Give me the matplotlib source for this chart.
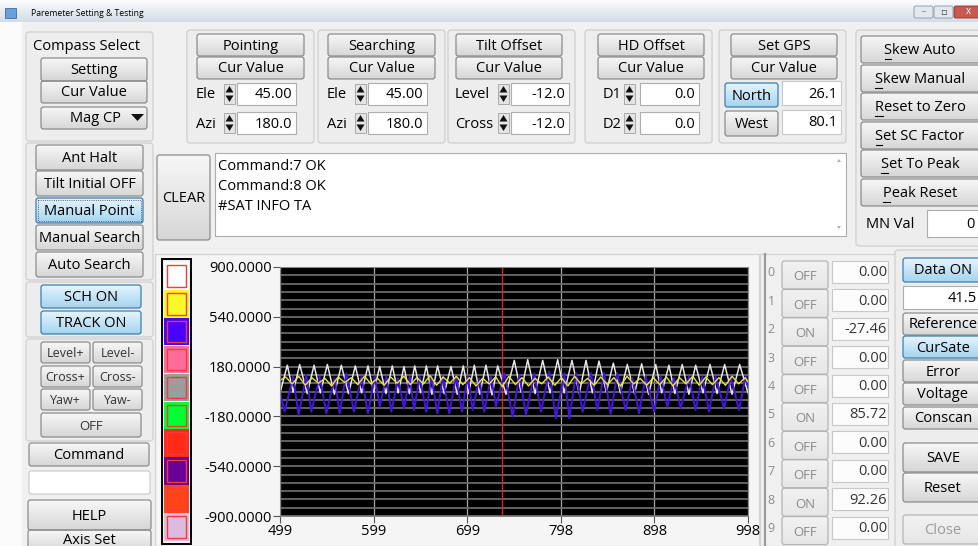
import numpy as np
import matplotlib
matplotlib.use('Agg')
import matplotlib.pyplot as plt
from matplotlib.patches import Rectangle, FancyBboxPatch, Polygon
from matplotlib.colors import LinearSegmentedColormap

plt.rcParams['font.family'] = ['Open Sans', 'DejaVu Sans']

W, H = 979, 546

# ---- chart data ----
x_ticks = [499, 598.8, 698.6, 798.4, 898.2, 998]
x_labels = ['499', '599', '699', '798', '898', '998']
y_ticks = [900, 540, 180, -180, -540, -900]
y_labels = ['900.0000', '540.0000', '180.0000', '-180.0000', '-540.0000', '-900.0000']
cursor_x = 736

white_x = [499, 506.8, 513, 520, 528, 535.3, 542, 549.5, 557, 564.4, 572, 579.3, 586, 592.8,
           599, 605.3, 612, 618.7, 625, 631.2, 637, 642.6, 649, 655, 661, 667, 674, 681.3,
           688, 694.4, 700, 706.2, 712, 718.6, 725, 731.1, 740, 748.8, 756, 763.1, 771, 779.1,
           787, 795.1, 802, 810.3, 818, 825.3, 832, 839.1, 847, 854.4, 862, 869.3, 877, 884.6,
           892, 899.6, 906, 913.7, 920, 927.9, 935, 942.2, 950, 957.5, 965, 973.1, 981, 989.1, 998]
white_y = [-10, 190, -5, 195, -15, 190, -10, 195, -20, 190, -15, 185, -10, 185, -5, 180, -15, 185,
           -10, 180, -15, 185, -10, 185, -20, 185, -15, 180, -20, 185, -15, 190, -20, 190, -25, 185,
           -20, 225, -5, 230, -15, 225, -10, 230, -10, 225, -15, 225, -10, 220, -5, 205, -10, 195,
           -15, 200, -20, 195, -10, 190, -15, 195, -20, 190, -10, 195, -15, 195, -20, 195, -10]

blue_x = [499, 504.0, 512.9, 518.9, 527.1, 532.4, 541.3, 548.4, 557.3, 562.6, 569.7, 577.9, 585.7,
          592.8, 600.0, 605.3, 612.4, 617.7, 624.8, 631.2, 637.3, 641.9, 647.9, 655.0, 660.4, 666.8,
          672.4, 679.5, 686.6, 693.0, 699.1, 704.4, 711.5, 716.8, 724.0, 729.3, 738.2, 747.0, 754.2,
          761.3, 770.1, 777.3, 786.1, 793.2, 802.1, 807.5, 814.6, 821.7, 830.6, 837.4, 844.5, 851.6,
          858.7, 867.6, 874.7, 881.8, 888.9, 897.8, 904.9, 912.0, 919.1, 926.2, 935.1, 942.2, 949.3,
          956.4, 963.5, 972.4, 979.5, 988.4, 995.5, 998]
blue_y = [-10, -145, 108, -169, 120, -145, 108, -157, 96, -157, 132, -145, 108, -157, 108, -109, 108,
          -145, 96, -121, 108, -133, 108, -145, 108, -157, 108, -157, 108, -145, 108, -133, 96, -145,
          108, -109, 132, -181, 120, -169, 132, -145, 145, -193, 132, -193, 132, -145, 132, -133, 132,
          -162, 132, -133, 96, -157, 108, -145, 108, -109, 96, -121, 108, -133, 108, -145, 108, -121,
          108, -133, 108, 40]

yellow_x = [499, 505, 512, 519, 526, 533, 540, 547, 554, 561, 568, 575, 582, 589, 596, 603, 610, 617,
            624, 631, 638, 645, 652, 659, 666, 673, 680, 687, 694, 701, 708, 715, 722, 729, 736, 743,
            750, 757, 764, 771, 778, 785, 792, 799, 806, 813, 820, 827, 834, 841, 848, 855, 862, 869,
            876, 883, 890, 897, 904, 911, 918, 925, 932, 939, 946, 953, 960, 967, 974, 981, 988, 995, 998]
yellow_y = [80, 105, 55, 110, 45, 100, 60, 95, 40, 105, 65, 100, 50, 110, 55, 95, 45, 105,
            60, 110, 50, 100, 55, 115, 45, 105, 60, 110, 50, 100, 40, 95, 55, 105, 35, 110,
            50, 100, 40, 95, 55, 105, 45, 100, 40, 110, 55, 95, 45, 105, 50, 100, 40, 110,
            55, 95, 45, 100, 50, 105, 40, 100, 55, 110, 45, 105, 50, 100, 45, 110, 55, 100, 70]

legend_colors = ['#ffffff', '#f8f82a', '#4a00ff', '#ff6b9b', '#9c9c9c',
                 '#00ff33', '#ff2a18', '#6a0099', '#ff4418', '#dfbadf']

chan_state = ['OFF', 'OFF', 'ON', 'OFF', 'OFF', 'ON', 'OFF', 'OFF', 'ON', 'OFF']
chan_value = ['0.00', '0.00', '-27.46', '0.00', '0.00', '85.72', '0.00', '0.00', '92.26', '0.00']

log_lines = ['Command:7 OK', 'Command:8 OK', '#SAT INFO TA']

FS = 10.5

# ---- window ----
fig = plt.figure(figsize=(W / 100, H / 100), dpi=100)
fig.patch.set_facecolor('#f0f0f0')
ui = fig.add_axes([0, 0, 1, 1])
ui.set_xlim(0, W)
ui.set_ylim(H, 0)
ui.axis('off')

ramp = np.linspace(0, 1, 64).reshape(-1, 1)


def shade(x, y, w, h, c1, c2, clip, z):
    cm = LinearSegmentedColormap.from_list('g', [c1, c2])
    im = ui.imshow(ramp, extent=(x, x + w, y + h, y), cmap=cm, aspect='auto',
                   zorder=z, interpolation='bilinear')
    im.set_clip_path(clip)


def button(x, y, w, h, label, style='gray', fs=FS, tc='#000000', tx=None, ty=None, z=3, ul=0):
    if style == 'blue':
        c1, c2, ec = '#e6f4fc', '#a4d4f0', '#3c7fb1'
    elif style == 'dis':
        c1, c2, ec = '#f2f2f2', '#e6e6e6', '#b4b4b4'
    else:
        c1, c2, ec = '#f7f7f7', '#d6d6d6', '#8c8c8c'
    p = FancyBboxPatch((x, y), w, h, boxstyle='round,pad=0,rounding_size=2.5',
                       fc='none', ec=ec, lw=0.9, zorder=z + 0.2)
    ui.add_patch(p)
    shade(x, y, w, h, c1, c2, p, z)
    if label:
        cx = x + w / 2 if tx is None else tx
        cy = y + h / 2 + 1 if ty is None else ty
        t = ui.text(cx, cy, label, ha='center', va='center', fontsize=fs, color=tc, zorder=z + 0.5)
        if ul:
            # underline the mnemonic (first) letter
            r = fig.canvas.get_renderer()
            bb = t.get_window_extent(r)
            x0 = ui.transData.inverted().transform((bb.x0, bb.y0))[0]
            ui.plot([x0 + 0.5, x0 + ul], [cy + 8, cy + 8], color=tc, lw=0.8, zorder=z + 0.5)


def field(x, y, w, h, label, fs=FS, tc='#000000', ec='#abadb3', fc='white', tx=None):
    ui.add_patch(Rectangle((x, y), w, h, fc=fc, ec=ec, lw=0.8, zorder=3))
    ui.text(x + w - 4 if tx is None else tx, y + h / 2 + 1, label, ha='right', va='center',
            fontsize=fs, color=tc, zorder=4)


def frame(x, y, w, h):
    ui.add_patch(FancyBboxPatch((x, y), w, h, boxstyle='round,pad=0,rounding_size=3',
                                fc='#ededed', ec='#cfcfcf', lw=0.9, zorder=1))


def spin(x, y):
    ui.add_patch(Rectangle((x, y), 11, 20, fc='#e4e4e4', ec='#a0a0a0', lw=0.6, zorder=3))
    ui.add_patch(Polygon([[x + 1.5, y + 8.5], [x + 9.5, y + 8.5], [x + 5.5, y + 2]],
                         closed=True, fc='#111111', ec='none', zorder=4))
    ui.add_patch(Polygon([[x + 1.5, y + 11.5], [x + 9.5, y + 11.5], [x + 5.5, y + 18]],
                         closed=True, fc='#111111', ec='none', zorder=4))


# title bar
tb = Rectangle((0, 0), W, 22, fc='none', ec='none')
ui.add_patch(tb)
shade(0, 0, W, 22, '#fbfcfd', '#d3dce6', tb, 1)
ui.add_patch(Rectangle((5, 8), 11, 10, fc='#6aa0d8', ec='#3a6ea8', lw=0.6, zorder=2))
ui.text(31, 13, 'Paremeter Setting & Testing', fontsize=6.2, va='center', ha='left', zorder=2)
for bx in [914, 934]:
    ui.add_patch(FancyBboxPatch((bx, 6), 19, 12, boxstyle='round,pad=0,rounding_size=2',
                                fc='#e2e8ee', ec='#8a97a6', lw=0.6, zorder=2))
ui.add_patch(FancyBboxPatch((954, 6), 40, 12, boxstyle='round,pad=0,rounding_size=2',
                            fc='#c9584e', ec='#8a3028', lw=0.6, zorder=2))
ui.text(924, 12, '–', fontsize=6, ha='center', va='center', color='#444', zorder=3)
ui.text(943, 12, '▫', fontsize=7, ha='center', va='center', color='#444', zorder=3)
ui.text(968, 12, 'x', fontsize=7, ha='center', va='center', color='white', zorder=3)
ui.add_patch(Rectangle((0, 22), 22, H - 22, fc='#fbfbfb', ec='none', zorder=0.5))

# left column
frame(26, 32, 127, 109)
ui.text(87, 47, 'Compass Select', fontsize=FS, ha='center', va='center', zorder=2)
button(41, 58, 106, 23, 'Setting')
button(41, 81, 106, 22, 'Cur Value')
button(41, 107, 106, 22, 'Mag CP', tx=96)
ui.add_patch(Polygon([[131, 114], [144, 114], [137.5, 121]], closed=True, fc='#111', zorder=5))

frame(26, 143, 127, 137)
button(36, 145, 107, 25, 'Ant Halt')
button(36, 171, 107, 25, 'Tilt Initial OFF')
button(36, 198, 107, 25, 'Manual Point', style='blue')
ui.add_patch(Rectangle((38, 200), 103, 21, fc='none', ec='#333', lw=0.6, ls=':', zorder=4))
button(36, 225, 107, 25, 'Manual Search')
button(36, 252, 107, 25, 'Auto Search')

frame(26, 282, 127, 55)
button(41, 285, 100, 23, 'SCH ON', style='blue')
button(41, 311, 100, 23, 'TRACK ON', style='blue')

frame(26, 339, 127, 102)
for r, (a, b) in enumerate([('Level+', 'Level-'), ('Cross+', 'Cross-'), ('Yaw+', 'Yaw-')]):
    yy = [342, 366, 389][r]
    button(41, yy, 49, 21, a, fs=9, tc='#333')
    button(93, yy, 49, 21, b, fs=9, tc='#333')
button(41, 413, 100, 24, 'OFF', fs=9.5, tc='#333')

button(29, 443, 120, 23, 'Command')
ui.add_patch(FancyBboxPatch((29, 471), 121, 23, boxstyle='round,pad=0,rounding_size=2',
                            fc='white', ec='#c8c8c8', lw=0.8, zorder=3))
button(28, 500, 123, 30, 'HELP')
button(28, 530, 123, 22, 'Axis Set', ty=540)

# top parameter groups
groups = [
    (187, 197, 107, 'Pointing', ['Ele', 'Azi'], ['45.00', '180.0'], 224, 237, 59),
    (318, 328, 107, 'Searching', ['Ele', 'Azi'], ['45.00', '180.0'], 355, 368, 59),
    (448, 456, 106, 'Tilt Offset', ['Level', 'Cross'], ['-12.0', '-12.0'], 498, 511, 58),
    (585, 598, 106, 'HD Offset', ['D1', 'D2'], ['0.0', '0.0'], 624, 640, 59),
]
for fx, bx, bw, name, labs, vals, sx, ex, ew in groups:
    frame(fx, 30, 127, 113)
    button(bx, 34, bw, 22, name)
    button(bx, 57, bw, 22, 'Cur Value')
    for k in range(2):
        cy = [94, 123][k]
        lx = bx - 1 if name != 'HD Offset' else 603
        ui.text(lx, cy + 1, labs[k], fontsize=FS, ha='left', va='center', zorder=4)
        spin(sx, cy - 10)
        field(ex, cy - 11, ew, 22, vals[k])

frame(719, 30, 127, 113)
button(731, 34, 106, 22, 'Set GPS')
button(731, 57, 106, 22, 'Cur Value')
button(725, 83, 53, 24, 'North', style='blue', ty=97)
field(782, 81, 59, 24, '26.1', ec='#c8c8c8')
button(725, 111, 53, 25, 'West', ty=125)
field(782, 110, 59, 24, '80.1', ec='#c8c8c8')

frame(856, 30, 140, 216)
for k, name in enumerate(['Skew Auto', 'Skew Manual', 'Reset to Zero', 'Set SC Factor',
                          'Set To Peak', 'Peak Reset']):
    yy = [36, 65, 93, 122, 150, 179][k]
    button(861, yy, 130, 27, name, tx=920, ul=[7, 7, 8, 7, 7, 7][k])
ui.text(866, 225, 'MN Val', fontsize=FS, ha='left', va='center', zorder=4)
field(927, 210, 60, 27, '0', tx=975)

# command log
button(157, 155, 53, 85, 'CLEAR')
ui.add_patch(Rectangle((215, 153), 631, 83, fc='white', ec='#abadb3', lw=0.8, zorder=2))
for k, line in enumerate(log_lines):
    ui.text(218, 166 + 20 * k, line, fontsize=10.5, ha='left', va='center', zorder=3)
ui.add_patch(Polygon([[837, 162], [841, 162], [839, 159]], closed=True, fc='#b0b0b0', zorder=3))
ui.add_patch(Polygon([[837, 226], [841, 226], [839, 229]], closed=True, fc='#b0b0b0', zorder=3))

# chart panel + colour key
ui.add_patch(Rectangle((155, 254), 604, 292, fc='#f5f5f5', ec='#d4d4d4', lw=0.9, zorder=1))
ui.add_patch(Rectangle((162, 259), 29, 285, fc='#f0f0f0', ec='black', lw=1.4, zorder=2))
for i, c in enumerate(legend_colors):
    cy = 262 + i * 27.9
    ui.add_patch(Rectangle((164, cy), 25, 27.6, fc=c, ec='none', zorder=3))
    ui.add_patch(Rectangle((167, cy + 3), 19, 21.6, fc=c, ec='#f03c3c', lw=1.0, zorder=4))

# channel table
ui.add_patch(Rectangle((760, 254), 137, 292, fc='#f0f0f0', ec='#d4d4d4', lw=0.9, zorder=1))
ui.plot([765, 765], [254, 546], color='#9a9a9a', lw=1.6, zorder=2)
for i in range(10):
    ry = 261 + 28.4 * i
    ui.text(771, ry + 12, str(i), fontsize=9, color='#8c8c8c', ha='center', va='center', zorder=3)
    button(782, ry, 46, 28, chan_state[i], style='dis', fs=9.5, tc='#8a8a8a', ty=ry + 16)
    field(832, ry, 56, 22, chan_value[i], tc='#333333', ec='#c8c8c8', fc='#fcfcfc', tx=887)

# right-hand buttons
frame(895, 250, 100, 300)
button(903, 258, 90, 24, 'Data ON', style='blue', tx=943)
field(903, 286, 90, 23, '41.5', tx=977)
button(903, 313, 90, 22, 'Reference', tx=943)
button(903, 336, 90, 22, 'CurSate', style='blue', tx=943)
button(903, 360, 90, 22, 'Error', tx=943)
button(903, 383, 90, 22, 'Voltage', tx=943)
button(903, 407, 90, 22, 'Conscan', tx=943)
button(903, 443, 90, 29, 'SAVE', tx=943)
button(903, 473, 90, 29, 'Reset', tx=943)
button(903, 515, 90, 29, 'Close', style='dis', tc='#9a9a9a', tx=943)

ui.set_xlim(0, W)
ui.set_ylim(H, 0)

# ---- the plot itself ----
ax = fig.add_axes([280 / W, 1 - 516 / H, 468 / W, 249 / H])
ax.set_facecolor('black')
ax.set_xlim(499, 998)
ax.set_ylim(-900, 900)
ax.set_yticks(y_ticks)
ax.set_yticklabels(y_labels)
ax.set_yticks(np.arange(-900, 901, 60), minor=True)
ax.set_xticks(x_ticks)
ax.set_xticklabels(x_labels)
ax.grid(axis='y', which='both', color='#6a6a6a', lw=1.3)
ax.grid(axis='x', which='major', color='#a8a8a8', lw=0.9)
ax.tick_params(axis='both', which='major', length=5, color='#555555', labelsize=10.5, pad=1)
ax.tick_params(axis='y', which='minor', length=0)
for s in ax.spines.values():
    s.set_color('#888888')
ax.axvline(cursor_x, color='#e0201a', lw=1)
ax.plot(white_x, white_y, color='#e6e6e6', lw=1.1)
ax.plot(blue_x, blue_y, color='#4414e0', lw=1.4)
ax.plot(yellow_x, yellow_y, color='#e8e82a', lw=1.0)

fig.savefig('out.png', dpi=100, facecolor=fig.get_facecolor())
